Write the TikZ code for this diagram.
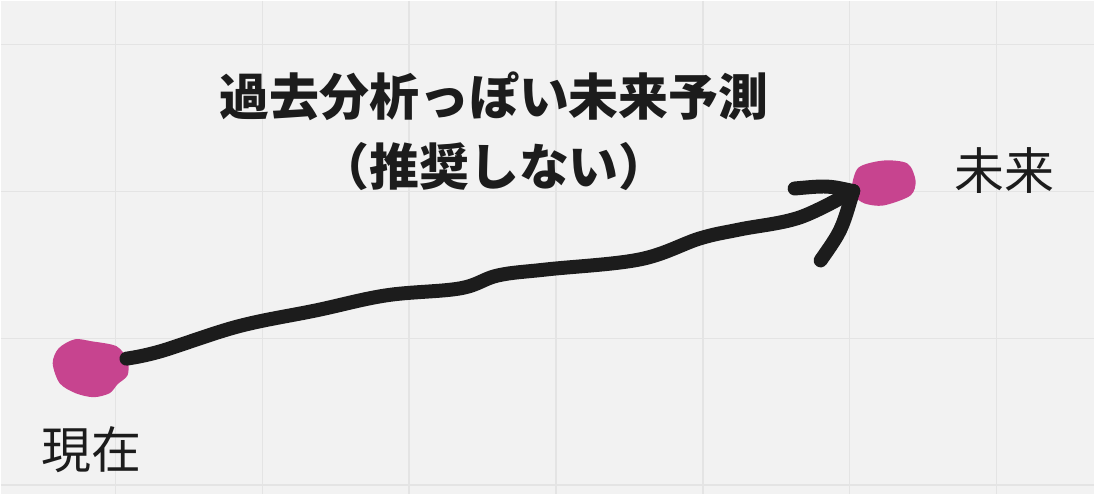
\documentclass[tikz,border=0pt]{standalone}
\usepackage{fontspec}
\setmainfont{Noto Sans CJK JP}
\usetikzlibrary{shapes.geometric}
\definecolor{paper}{HTML}{F2F2F2}
\definecolor{gridline}{HTML}{E4E4E4}
\definecolor{ink}{HTML}{1C1C1C}
\definecolor{blobpink}{HTML}{C7448F}

\begin{document}
\begin{tikzpicture}[x=1pt,y=-1pt,
  labeltext/.style={font=\fontsize{50}{70}\selectfont,text=ink},
  titletext/.style={font=\fontsize{50}{70}\selectfont\bfseries,text=ink,align=center},
  pen/.style={draw=ink,line width=14pt,line cap=round,line join=round},
  blob/.style={ellipse,inner sep=0pt}]
  \fill[paper] (0,0) rectangle (1095,494);
  \foreach \x in {115,262,...,1000} \draw[gridline,line width=1.5pt] (\x,0) -- (\x,494);
  \foreach \y in {44,191,...,490} \draw[gridline,line width=1.5pt] (0,\y) -- (1095,\y);

  \node[blob,minimum width=76pt,minimum height=56pt](now) at (90,368){};
  \node[blob,minimum width=64pt,minimum height=46pt](future) at (884,183){};
  \fill[blobpink,shift={(now.center)}] plot[smooth cycle] coordinates
    {(-38,-5) (-32,-20) (-16,-29) (1,-27) (26,-22) (37,-8) (37,7) (27,16) (19,25) (3,29) (-15,25) (-31,15)};
  \fill[blobpink,shift={(future.center)}] plot[smooth cycle] coordinates
    {(-32,4) (-25,-16) (0,-23) (24,-20) (32,-3) (27,12) (0,22) (-19,20) (-30,12)};

  \node[titletext](title) at (494,131){過去分析っぽい未来予測\\（推奨しない）};
  \node[labeltext](futurelabel) at (1005,170){未来};
  \node[labeltext](nowlabel) at (91,450){現在};

  \draw[pen] plot[smooth,tension=0.6] coordinates {(now.15) (160,351) (238,326)
    (316,310) (386,295) (460,288) (498,275) (547,269) (640,259) (700,238)
    (740,229) (800,217) (future.194)};
  \draw[pen] (795,188) .. controls (828,185) .. (future.194);
  \draw[pen] (821,260) .. controls (842,230) .. (future.194);
\end{tikzpicture}
\end{document}
